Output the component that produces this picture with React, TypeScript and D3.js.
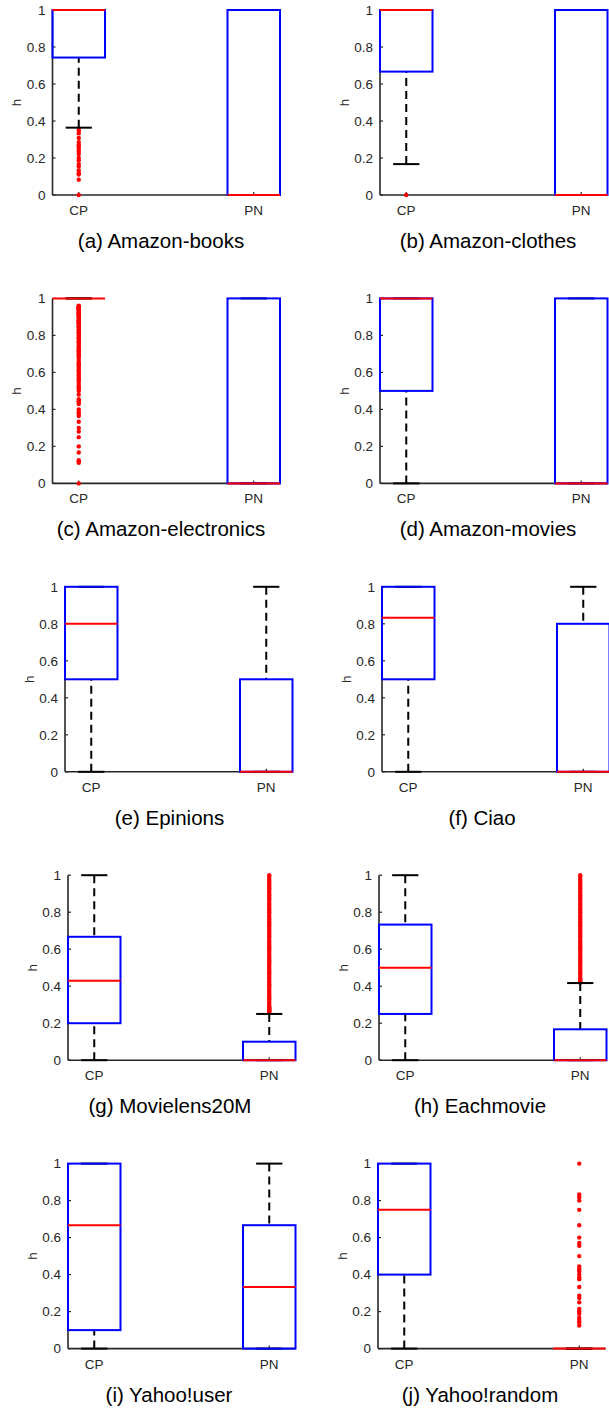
import React from "react";
import * as d3 from "d3";

const categories = ["CP", "PN"];
const titles = [
  "(a) Amazon-books",
  "(b) Amazon-clothes",
  "(c) Amazon-electronics",
  "(d) Amazon-movies",
  "(e) Epinions",
  "(f) Ciao",
  "(g) Movielens20M",
  "(h) Eachmovie",
  "(i) Yahoo!user",
  "(j) Yahoo!random",
];
const yTickValues = [0, 0.2, 0.4, 0.6, 0.8, 1];

// CP statistics per panel
const cpLowerWhisker = [0.364, 0.167, 1, 0, 0, 0, 0, 0, 0, 0];
const cpQ1 = [0.743, 0.667, 1, 0.5, 0.5, 0.5, 0.2, 0.25, 0.1, 0.4];
const cpMedian = [1, 1, 1, 1, 0.8, 0.833, 0.43, 0.5, 0.667, 0.75];
const cpQ3 = [1, 1, 1, 1, 1, 1, 0.667, 0.733, 1, 1];
const cpUpperWhisker = [1, 1, 1, 1, 1, 1, 1, 1, 1, 1];

// PN statistics per panel
const pnLowerWhisker = [0, 0, 0, 0, 0, 0, 0, 0, 0, 0];
const pnQ1 = [0, 0, 0, 0, 0, 0, 0, 0, 0, 0];
const pnMedian = [0, 0, 0, 0, 0, 0, 0, 0, 0.333, 0];
const pnQ3 = [1, 1, 1, 1, 0.5, 0.8, 0.1, 0.167, 0.667, 0];
const pnUpperWhisker = [1, 1, 1, 1, 1, 1, 0.25, 0.417, 1, 0];

const booksCPOutliers = [0.357, 0.346, 0.333, 0.308, 0.286, 0.273, 0.263, 0.25, 0.235, 0.222, 0.2, 0.188, 0.167, 0.154, 0.133, 0.118, 0.111, 0.083, 0];
const clothesCPOutliers = [0];
const electronicsCPOutliers = [
  0, 0.111, 0.118, 0.125, 0.167, 0.2, 0.25, 0.28, 0.3, 0.333, 0.364, 0.375, 0.385, 0.4, 0.429, 0.44, 0.444, 0.455, 0.48, 0.5, 0.51,
  0.52, 0.53, 0.545, 0.556, 0.565, 0.571, 0.58, 0.588, 0.6, 0.61, 0.615, 0.625, 0.636, 0.64, 0.647, 0.654, 0.667, 0.68, 0.688,
  0.692, 0.7, 0.706, 0.714, 0.72, 0.727, 0.733, 0.74, 0.75, 0.76, 0.765, 0.769, 0.778, 0.786, 0.79, 0.8, 0.81, 0.815, 0.818,
  0.826, 0.833, 0.84, 0.846, 0.85, 0.857, 0.864, 0.867, 0.87, 0.875, 0.88, 0.882, 0.889, 0.895, 0.9, 0.905, 0.909, 0.913,
  0.917, 0.92, 0.923, 0.929, 0.933, 0.938, 0.941, 0.944, 0.947, 0.95, 0.952, 0.955, 0.957, 0.96,
];
const movielensPNOutliers = [
  0.255, 0.26, 0.265, 0.27, 0.275, 0.28, 0.285, 0.29, 0.3, 0.31, 0.32, 0.33, 0.34, 0.35, 0.36, 0.37, 0.38, 0.39, 0.4, 0.41,
  0.42, 0.43, 0.44, 0.45, 0.46, 0.47, 0.48, 0.49, 0.5, 0.51, 0.52, 0.53, 0.54, 0.55, 0.56, 0.57, 0.58, 0.59, 0.6, 0.61, 0.62,
  0.63, 0.64, 0.65, 0.66, 0.67, 0.68, 0.69, 0.7, 0.71, 0.72, 0.73, 0.74, 0.75, 0.76, 0.77, 0.78, 0.79, 0.8, 0.81, 0.82, 0.83,
  0.84, 0.85, 0.86, 0.87, 0.88, 0.89, 0.9, 0.91, 0.92, 0.93, 0.94, 0.95, 0.96, 0.97, 0.98, 0.99, 1,
];
const eachmoviePNOutliers = [
  0.42, 0.425, 0.43, 0.435, 0.44, 0.45, 0.46, 0.47, 0.48, 0.49, 0.5, 0.51, 0.52, 0.53, 0.54, 0.55, 0.56, 0.57, 0.58, 0.59, 0.6,
  0.61, 0.62, 0.63, 0.64, 0.65, 0.66, 0.67, 0.68, 0.69, 0.7, 0.71, 0.72, 0.73, 0.74, 0.75, 0.76, 0.77, 0.78, 0.79, 0.8, 0.81,
  0.82, 0.83, 0.84, 0.85, 0.86, 0.87, 0.88, 0.89, 0.9, 0.91, 0.92, 0.93, 0.94, 0.95, 0.96, 0.97, 0.98, 0.99, 1,
];
const yahooRandomPNOutliers = [1, 0.833, 0.818, 0.8, 0.75, 0.667, 0.6, 0.571, 0.556, 0.5, 0.444, 0.429, 0.417, 0.4, 0.385, 0.375, 0.333, 0.286, 0.273, 0.25, 0.214, 0.2, 0.188, 0.167, 0.154, 0.143, 0.125];

const cpOutliers = [booksCPOutliers, clothesCPOutliers, electronicsCPOutliers, [], [], [], [], [], [], []];
const pnOutliers = [[], [], [], [], [], [], movielensPNOutliers, eachmoviePNOutliers, [], yahooRandomPNOutliers];

// layout (not data)
const panelLeft = [52.5, 380, 52.5, 380, 65, 382, 68, 379, 68, 378];
const titleX = [161, 488, 161, 488, 169.5, 482, 170, 480, 169, 480];
const PLOT_W = 227.5;
const PLOT_H = 185;
const ROW_STEP = 288.4;
const FONT = "'Liberation Sans', Arial, Helvetica, sans-serif";
const LW = 2;

function Panel({ i }: { i: number }) {
  const left = panelLeft[i];
  const right = left + PLOT_W;
  const top = 10 + Math.floor(i / 2) * ROW_STEP;
  const bottom = top + PLOT_H;
  const x = d3.scaleLinear().domain([0.85, 2.15]).range([left, right]);
  const y = d3.scaleLinear().domain([0, 1]).range([bottom, top]);
  const halfW = 0.15;
  const capHalf = 0.075;

  const groups = [
    { pos: 1, lw: cpLowerWhisker[i], q1: cpQ1[i], med: cpMedian[i], q3: cpQ3[i], uw: cpUpperWhisker[i], out: cpOutliers[i] },
    { pos: 2, lw: pnLowerWhisker[i], q1: pnQ1[i], med: pnMedian[i], q3: pnQ3[i], uw: pnUpperWhisker[i], out: pnOutliers[i] },
  ];

  return (
    <g>
      {/* axes */}
      <line x1={left} x2={left} y1={y(0)} y2={y(1)} stroke="#262626" strokeWidth={1.6} />
      <line x1={left} x2={right} y1={y(0)} y2={y(0)} stroke="#262626" strokeWidth={1.6} />
      {yTickValues.map((t) => (
        <g key={t}>
          <line x1={left} x2={left + 3} y1={y(t)} y2={y(t)} stroke="#262626" strokeWidth={1.2} />
          <text x={left - 7} y={y(t)} dy="0.36em" textAnchor="end" fontSize={13.5} fill="#262626" fontFamily={FONT}>
            {d3.format("~g")(t)}
          </text>
        </g>
      ))}
      {categories.map((c, k) => (
        <g key={c}>
          <line x1={x(k + 1)} x2={x(k + 1)} y1={y(0)} y2={y(0) - 3} stroke="#262626" strokeWidth={1.2} />
          <text x={x(k + 1)} y={bottom + 20} textAnchor="middle" fontSize={13.5} fill="#262626" fontFamily={FONT}>
            {c}
          </text>
        </g>
      ))}
      <text
        transform={`translate(${left - 31.5},${(top + bottom) / 2}) rotate(-90)`}
        textAnchor="middle"
        fontSize={13.5}
        fill="#262626"
        fontFamily={FONT}
      >
        h
      </text>
      {groups.map((g) => (
        <g key={g.pos}>
          {g.out.map((v, k) => (
            <circle key={k} cx={x(g.pos)} cy={y(v)} r={2.2} fill="#ff0000" />
          ))}
          {g.uw > g.q3 && (
            <line x1={x(g.pos)} x2={x(g.pos)} y1={y(g.uw)} y2={y(g.q3)} stroke="#000" strokeWidth={LW} strokeDasharray="8,5" />
          )}
          {g.lw < g.q1 && (
            <line x1={x(g.pos)} x2={x(g.pos)} y1={y(g.lw)} y2={y(g.q1)} stroke="#000" strokeWidth={LW} strokeDasharray="8,5" />
          )}
          <line x1={x(g.pos - capHalf)} x2={x(g.pos + capHalf)} y1={y(g.uw)} y2={y(g.uw)} stroke="#000" strokeWidth={LW} />
          <line x1={x(g.pos - capHalf)} x2={x(g.pos + capHalf)} y1={y(g.lw)} y2={y(g.lw)} stroke="#000" strokeWidth={LW} />
          <rect
            x={x(g.pos - halfW)}
            y={y(g.q3)}
            width={x(g.pos + halfW) - x(g.pos - halfW)}
            height={y(g.q1) - y(g.q3)}
            fill="none"
            stroke="#0000ff"
            strokeWidth={LW}
          />
          <line x1={x(g.pos - halfW)} x2={x(g.pos + halfW)} y1={y(g.med)} y2={y(g.med)} stroke="#ff0000" strokeWidth={LW} />
        </g>
      ))}
      <text x={titleX[i]} y={bottom + 53} textAnchor="middle" fontSize={20.5} fill="#000" fontFamily={FONT}>
        {titles[i]}
      </text>
    </g>
  );
}

export default function App() {
  return (
    <svg
      width={609}
      height={1410}
      style={{ position: "absolute", left: 0, top: 0, background: "#fff" }}
      xmlns="http://www.w3.org/2000/svg"
    >
      <rect width={609} height={1410} fill="#fff" />
      {titles.map((_, i) => (
        <Panel key={i} i={i} />
      ))}
    </svg>
  );
}
